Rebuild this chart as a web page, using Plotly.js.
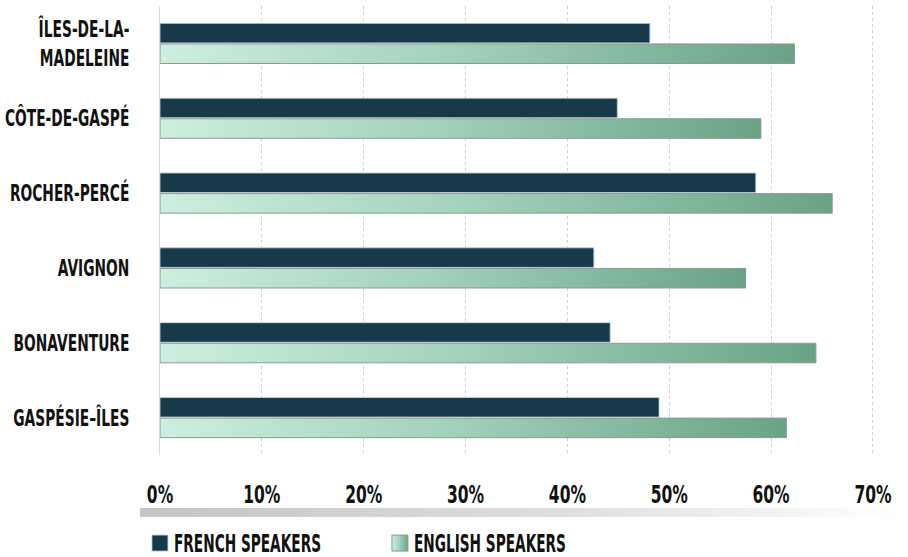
<!DOCTYPE html>
<html>
<head>
<meta charset="utf-8">
<script src="https://cdn.plot.ly/plotly-3.0.1.min.js"></script>
<style>
html,body{margin:0;padding:0;background:#fff;}
#chart{width:908px;height:557px;}
</style>
</head>
<body>
<div id="chart"></div>
<script>
const regions = ["ÎLES-DE-LA-<br>MADELEINE", "CÔTE-DE-GASPÉ", "ROCHER-PERCÉ", "AVIGNON", "BONAVENTURE", "GASPÉSIE–ÎLES"];
const frenchSpeakers = [48.1, 44.9, 58.5, 42.6, 44.2, 49.0];
const englishSpeakers = [62.3, 59.0, 66.0, 57.5, 64.4, 61.5];
const xTickValues = [0, 10, 20, 30, 40, 50, 60, 70];
const xTickLabels = ["0%", "10%", "20%", "30%", "40%", "50%", "60%", "70%"];
const seriesNames = ["FRENCH SPEAKERS", "ENGLISH SPEAKERS"];

const FONT = "'DejaVu Sans', sans-serif";

const traces = [
  {
    type: 'bar', orientation: 'h', name: seriesNames[0],
    y: regions, x: frenchSpeakers,
    marker: {color: '#173a4a', line: {color: '#c9d3d6', width: 0.8}},
    hoverinfo: 'x+y'
  },
  {
    type: 'bar', orientation: 'h', name: seriesNames[1],
    y: regions, x: englishSpeakers,
    marker: {color: '#93c7b0', line: {color: '#8a9a93', width: 1}},
    hoverinfo: 'x+y'
  }
];

const gradSvg = '<svg xmlns="http://www.w3.org/2000/svg" width="760" height="9" preserveAspectRatio="none">' +
  '<defs><linearGradient id="g" x1="0" y1="0" x2="1" y2="0">' +
  '<stop offset="0" stop-color="#c4c4c4"/><stop offset="0.55" stop-color="#dedede"/><stop offset="1" stop-color="#ffffff"/>' +
  '</linearGradient></defs><rect width="760" height="9" fill="url(#g)"/></svg>';

const layout = {
  width: 908, height: 557,
  margin: {l: 160, r: 32, t: 6, b: 102, autoexpand: false},
  paper_bgcolor: '#ffffff', plot_bgcolor: '#ffffff',
  font: {family: FONT, color: '#111111'},
  barmode: 'group', bargap: 0.45, bargroupgap: 0.05,
  showlegend: true,
  legend: {
    orientation: 'h', x: -0.028, xanchor: 'left', y: -0.197, yanchor: 'middle',
    font: {family: FONT, size: 24, color: '#111111', weight: 'bold'},
    entrywidth: 195, itemwidth: 30, traceorder: 'normal', bgcolor: 'rgba(0,0,0,0)'
  },
  xaxis: {
    range: [0, 70.3], tickvals: xTickValues, ticktext: xTickLabels,
    showgrid: true, gridcolor: '#cfcfcf', griddash: 'dot', gridwidth: 1,
    zeroline: false, showline: false, ticks: '',
    ticklabelstandoff: 22,
    tickfont: {family: FONT, size: 25, color: '#111111', weight: 'bold'},
    fixedrange: true
  },
  yaxis: {
    type: 'category', autorange: 'reversed',
    showgrid: false, zeroline: false, ticks: '',
    showline: true, linecolor: '#d9d9d9', linewidth: 1,
    ticklabelstandoff: 25,
    tickfont: {family: FONT, size: 23, color: '#111111', weight: 'bold'},
    fixedrange: true
  },
  images: [{
    source: 'data:image/svg+xml;charset=utf-8,' + encodeURIComponent(gradSvg),
    xref: 'paper', yref: 'paper',
    x: -0.028, y: -0.118, sizex: 1.064, sizey: 0.02,
    xanchor: 'left', yanchor: 'top', sizing: 'stretch', layer: 'below'
  }]
};

function condense(textEl, f) {
  const lines = textEl.querySelectorAll('tspan.line');
  const targets = lines.length ? Array.from(lines) : [textEl];
  targets.forEach(function(t){
    const L = t.getComputedTextLength();
    if (L > 0) {
      t.setAttribute('textLength', (L * f).toFixed(1));
      t.setAttribute('lengthAdjust', 'spacingAndGlyphs');
    }
  });
}

Plotly.newPlot('chart', traces, layout, {displayModeBar: false, staticPlot: true}).then(function(gd){
  const svg = gd.querySelector('svg.main-svg');
  const ns = 'http://www.w3.org/2000/svg';
  let defs = svg.querySelector('defs');
  if (!defs) { defs = document.createElementNS(ns, 'defs'); svg.insertBefore(defs, svg.firstChild); }
  const lg = document.createElementNS(ns, 'linearGradient');
  lg.setAttribute('id', 'engGrad');
  lg.setAttribute('x1', '0'); lg.setAttribute('y1', '0'); lg.setAttribute('x2', '1'); lg.setAttribute('y2', '0');
  [['0', '#cdeee0'], ['0.45', '#a3d2bd'], ['1', '#6ba287']].forEach(function(s){
    const st = document.createElementNS(ns, 'stop');
    st.setAttribute('offset', s[0]); st.setAttribute('stop-color', s[1]);
    lg.appendChild(st);
  });
  defs.appendChild(lg);
  const traceGroups = gd.querySelectorAll('.barlayer .trace');
  if (traceGroups.length > 1) {
    traceGroups[1].querySelectorAll('path').forEach(function(p){ p.style.fill = 'url(#engGrad)'; });
  }
  // legend symbols: larger squares, text closer
  const lgItems = gd.querySelectorAll('.legend .traces');
  lgItems.forEach(function(item, i){
    item.querySelectorAll('.legendpoints path').forEach(function(p){
      p.setAttribute('d', 'M8,8H-8V-8H8Z');
      if (i === 1) { p.style.fill = 'url(#engGrad)'; p.style.stroke = '#8a9a93'; }
    });
    const txt = item.querySelector('.legendtext');
    if (txt) {
      txt.setAttribute('x', '34');
      txt.querySelectorAll('tspan.line').forEach(function(ts){ ts.setAttribute('x', '34'); });
    }
  });
  // condensed display-style lettering
  gd.querySelectorAll('.ytick text').forEach(function(t){ condense(t, 0.6); });
  gd.querySelectorAll('.xtick text').forEach(function(t){ condense(t, 0.62); });
  gd.querySelectorAll('.legendtext').forEach(function(t){ condense(t, 0.57); });
});
</script>
</body>
</html>
